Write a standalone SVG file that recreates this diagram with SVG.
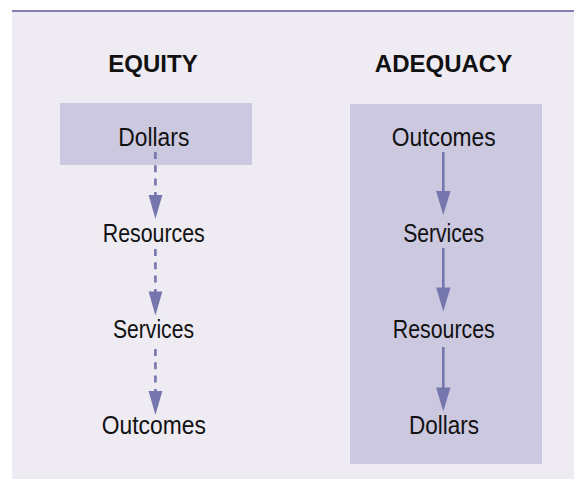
<svg xmlns="http://www.w3.org/2000/svg" width="574" height="479" viewBox="0 0 574 479">
<defs>
<style>
.bg{fill:#eeebf3}
.rule{fill:#8080b4}
.box{fill:#cbc8df}
.title{font-family:"Liberation Sans",Arial,sans-serif;font-weight:bold;font-size:24px;fill:#111;text-anchor:middle}
.lbl{font-family:"Liberation Sans",Arial,sans-serif;font-size:25px;fill:#111;text-anchor:middle}
.dash{stroke:#7676ae;stroke-width:2.6;fill:none;stroke-dasharray:7 6.3}
.solid{stroke:#7676ae;stroke-width:2.6;fill:none}
.head{fill:#7676ae}
</style>
</defs>
<rect class="bg" x="12" y="12" width="562" height="467"/>
<rect class="rule" x="12" y="10" width="562" height="2"/>
<g id="equity">
<text class="title" x="153" y="72">EQUITY</text>
<rect id="equity-box" class="box" x="60" y="103" width="192" height="62"/>
<g id="eq-dollars"><text class="lbl" x="153.8" y="146" textLength="71" lengthAdjust="spacingAndGlyphs">Dollars</text></g>
<g id="eq-resources"><text class="lbl" x="153.8" y="242" textLength="102" lengthAdjust="spacingAndGlyphs">Resources</text></g>
<g id="eq-services"><text class="lbl" x="153.5" y="338" textLength="81" lengthAdjust="spacingAndGlyphs">Services</text></g>
<g id="eq-outcomes"><text class="lbl" x="153.8" y="434" textLength="104" lengthAdjust="spacingAndGlyphs">Outcomes</text></g>
</g>
<g id="adequacy">
<text class="title" x="443.5" y="72">ADEQUACY</text>
<rect id="adequacy-box" class="box" x="350" y="104" width="192" height="360"/>
<g id="ad-outcomes"><text class="lbl" x="443.7" y="146" textLength="104" lengthAdjust="spacingAndGlyphs">Outcomes</text></g>
<g id="ad-services"><text class="lbl" x="443.7" y="242" textLength="81" lengthAdjust="spacingAndGlyphs">Services</text></g>
<g id="ad-resources"><text class="lbl" x="443.8" y="338" textLength="102" lengthAdjust="spacingAndGlyphs">Resources</text></g>
<g id="ad-dollars"><text class="lbl" x="444" y="434" textLength="70" lengthAdjust="spacingAndGlyphs">Dollars</text></g>
</g>
<g id="connectors">
<line class="dash" x1="155.4" y1="152" x2="155.4" y2="196"/>
<polygon class="head" points="148.6,195 162.4,195 155.4,219"/>
<line class="dash" x1="155.4" y1="249" x2="155.4" y2="292"/>
<polygon class="head" points="148.6,291.5 162.4,291.5 155.4,315.5"/>
<line class="dash" x1="155.4" y1="349" x2="155.4" y2="392"/>
<polygon class="head" points="148.6,391 162.4,391 155.4,415"/>
<line class="solid" x1="443.3" y1="152" x2="443.3" y2="193"/>
<polygon class="head" points="436.1,191 450.5,191 443.3,215"/>
<line class="solid" x1="443.3" y1="248" x2="443.3" y2="289"/>
<polygon class="head" points="436.1,287.5 450.5,287.5 443.3,311.5"/>
<line class="solid" x1="443.3" y1="347" x2="443.3" y2="389"/>
<polygon class="head" points="436.1,387.5 450.5,387.5 443.3,411.5"/>
</g>
</svg>
